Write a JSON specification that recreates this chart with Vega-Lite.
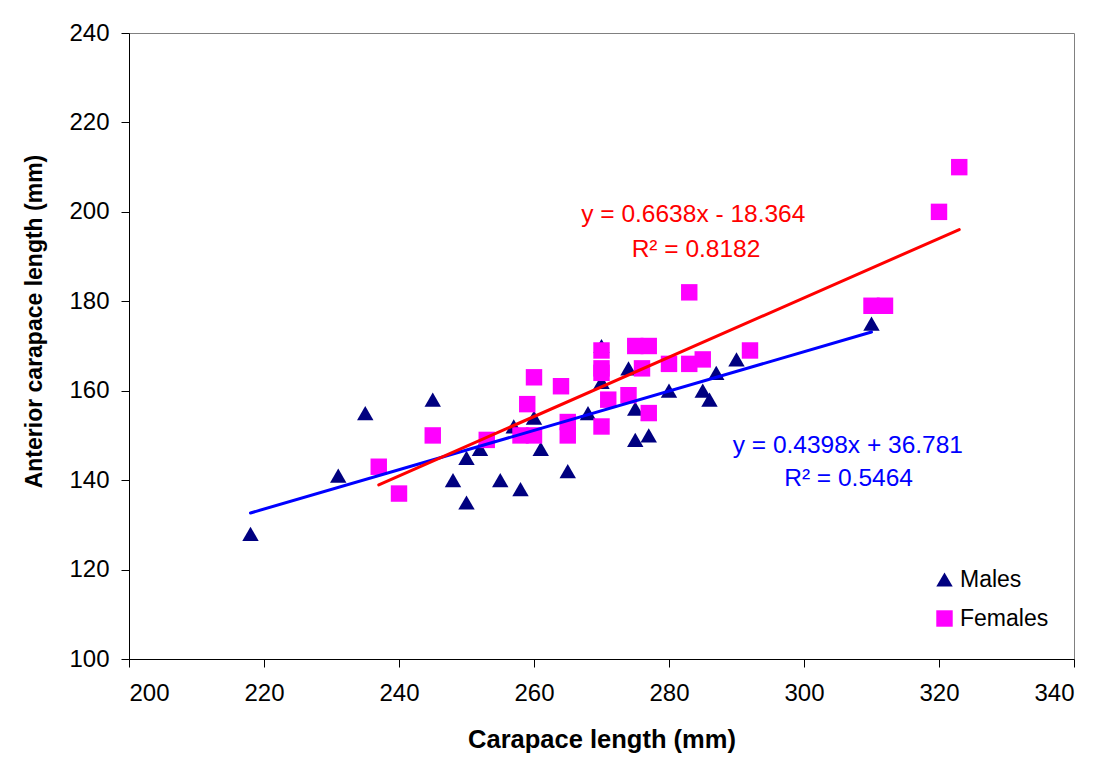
{
  "$schema": "https://vega.github.io/schema/vega-lite/v6.json",
  "width": 945,
  "height": 626,
  "autosize": {"type": "none"},
  "padding": {"left": 129, "top": 33, "right": 26, "bottom": 101},
  "background": "white",
  "config": {
    "font": "Liberation Sans",
    "view": {"stroke": "#808080", "strokeWidth": 1},
    "axis": {
      "grid": false,
      "domainColor": "black",
      "domainWidth": 1,
      "tickColor": "black",
      "tickSize": 8,
      "labelFont": "Liberation Sans",
      "labelFontSize": 24,
      "labelColor": "black",
      "titleFont": "Liberation Sans",
      "titleFontSize": 25,
      "titleFontWeight": "bold",
      "titleColor": "black"
    }
  },
  "layer": [
    {
      "data": {
        "values": [
          {"sex": "Males", "cl": 218, "acl": 128},
          {"sex": "Males", "cl": 231, "acl": 141},
          {"sex": "Males", "cl": 235, "acl": 155},
          {"sex": "Males", "cl": 245, "acl": 158},
          {"sex": "Males", "cl": 248, "acl": 140},
          {"sex": "Males", "cl": 250, "acl": 145},
          {"sex": "Males", "cl": 250, "acl": 135},
          {"sex": "Males", "cl": 252, "acl": 147},
          {"sex": "Males", "cl": 255, "acl": 140},
          {"sex": "Males", "cl": 257, "acl": 152},
          {"sex": "Males", "cl": 258, "acl": 138},
          {"sex": "Males", "cl": 260, "acl": 154},
          {"sex": "Males", "cl": 261, "acl": 147},
          {"sex": "Males", "cl": 265, "acl": 142},
          {"sex": "Males", "cl": 268, "acl": 155},
          {"sex": "Males", "cl": 270, "acl": 170},
          {"sex": "Males", "cl": 270, "acl": 162},
          {"sex": "Males", "cl": 274, "acl": 165},
          {"sex": "Males", "cl": 275, "acl": 156},
          {"sex": "Males", "cl": 275, "acl": 149},
          {"sex": "Males", "cl": 277, "acl": 155},
          {"sex": "Males", "cl": 277, "acl": 150},
          {"sex": "Males", "cl": 280, "acl": 166},
          {"sex": "Males", "cl": 280, "acl": 160},
          {"sex": "Males", "cl": 285, "acl": 160},
          {"sex": "Males", "cl": 286, "acl": 158},
          {"sex": "Males", "cl": 287, "acl": 164},
          {"sex": "Males", "cl": 290, "acl": 167},
          {"sex": "Males", "cl": 310, "acl": 175},
          {"sex": "Females", "cl": 237, "acl": 143},
          {"sex": "Females", "cl": 240, "acl": 137},
          {"sex": "Females", "cl": 245, "acl": 150},
          {"sex": "Females", "cl": 253, "acl": 149},
          {"sex": "Females", "cl": 258, "acl": 150},
          {"sex": "Females", "cl": 260, "acl": 150},
          {"sex": "Females", "cl": 259, "acl": 157},
          {"sex": "Females", "cl": 260, "acl": 163},
          {"sex": "Females", "cl": 264, "acl": 161},
          {"sex": "Females", "cl": 265, "acl": 153},
          {"sex": "Females", "cl": 265, "acl": 150},
          {"sex": "Females", "cl": 270, "acl": 169},
          {"sex": "Females", "cl": 270, "acl": 165},
          {"sex": "Females", "cl": 270, "acl": 164},
          {"sex": "Females", "cl": 270, "acl": 152},
          {"sex": "Females", "cl": 271, "acl": 158},
          {"sex": "Females", "cl": 274, "acl": 159},
          {"sex": "Females", "cl": 275, "acl": 170},
          {"sex": "Females", "cl": 277, "acl": 170},
          {"sex": "Females", "cl": 276, "acl": 165},
          {"sex": "Females", "cl": 277, "acl": 155},
          {"sex": "Females", "cl": 280, "acl": 166},
          {"sex": "Females", "cl": 283, "acl": 166},
          {"sex": "Females", "cl": 285, "acl": 167},
          {"sex": "Females", "cl": 292, "acl": 169},
          {"sex": "Females", "cl": 283, "acl": 182},
          {"sex": "Females", "cl": 310, "acl": 179},
          {"sex": "Females", "cl": 312, "acl": 179},
          {"sex": "Females", "cl": 320, "acl": 200},
          {"sex": "Females", "cl": 323, "acl": 210}
        ]
      },
      "mark": {"type": "point", "filled": true, "opacity": 1, "size": 270, "strokeWidth": 0},
      "encoding": {
        "x": {
          "field": "cl", "type": "quantitative",
          "scale": {"domain": [200, 340], "nice": false, "zero": false},
          "axis": {"values": [200, 220, 240, 260, 280, 300, 320, 340], "labelPadding": 14, "title": "Carapace length (mm)", "titlePadding": 22, "titleFontSize": 25.5}
        },
        "y": {
          "field": "acl", "type": "quantitative",
          "scale": {"domain": [100, 240], "nice": false, "zero": false},
          "axis": {"values": [100, 120, 140, 160, 180, 200, 220, 240], "labelPadding": 12, "title": "Anterior carapace length (mm)", "titlePadding": 22, "titleY": 288, "titleFontSize": 23}
        },
        "color": {
          "field": "sex", "type": "nominal",
          "scale": {"domain": ["Males", "Females"], "range": ["#000080", "#FF00FF"]},
          "legend": {
            "title": null,
            "orient": "none",
            "legendX": 804,
            "legendY": 535,
            "labelFontSize": 23,
            "labelFont": "Liberation Sans",
            "labelColor": "black",
            "labelOffset": 4,
            "symbolSize": 270,
            "rowPadding": 15,
            "padding": 0
          }
        },
        "shape": {
          "field": "sex", "type": "nominal",
          "scale": {"domain": ["Males", "Females"], "range": ["triangle-up", "square"]},
          "legend": null
        }
      }
    },
    {
      "data": {"values": [{"cl": 218, "acl": 132.66}, {"cl": 310, "acl": 173.12}]},
      "mark": {"type": "line", "color": "#0000FF", "strokeWidth": 3, "strokeCap": "round"},
      "encoding": {
        "x": {"field": "cl", "type": "quantitative"},
        "y": {"field": "acl", "type": "quantitative"}
      }
    },
    {
      "data": {"values": [{"cl": 237, "acl": 138.95}, {"cl": 323, "acl": 196.04}]},
      "mark": {"type": "line", "color": "#FF0000", "strokeWidth": 3, "strokeCap": "round"},
      "encoding": {
        "x": {"field": "cl", "type": "quantitative"},
        "y": {"field": "acl", "type": "quantitative"}
      }
    },
    {
      "data": {"values": [
        {"label": "y = 0.6638x - 18.364", "tx": 283.6, "ty": 197.8},
        {"label": "R² = 0.8182", "tx": 284.0, "ty": 189.9}
      ]},
      "mark": {"type": "text", "color": "#FF0000", "fontSize": 24.5, "font": "Liberation Sans", "align": "center", "baseline": "alphabetic"},
      "encoding": {
        "x": {"field": "tx", "type": "quantitative"},
        "y": {"field": "ty", "type": "quantitative"},
        "text": {"field": "label"}
      }
    },
    {
      "data": {"values": [
        {"label": "y = 0.4398x + 36.781", "tx": 306.5, "ty": 146.0},
        {"label": "R² = 0.5464", "tx": 306.6, "ty": 138.6}
      ]},
      "mark": {"type": "text", "color": "#0000FF", "fontSize": 24.5, "font": "Liberation Sans", "align": "center", "baseline": "alphabetic"},
      "encoding": {
        "x": {"field": "tx", "type": "quantitative"},
        "y": {"field": "ty", "type": "quantitative"},
        "text": {"field": "label"}
      }
    }
  ]
}
